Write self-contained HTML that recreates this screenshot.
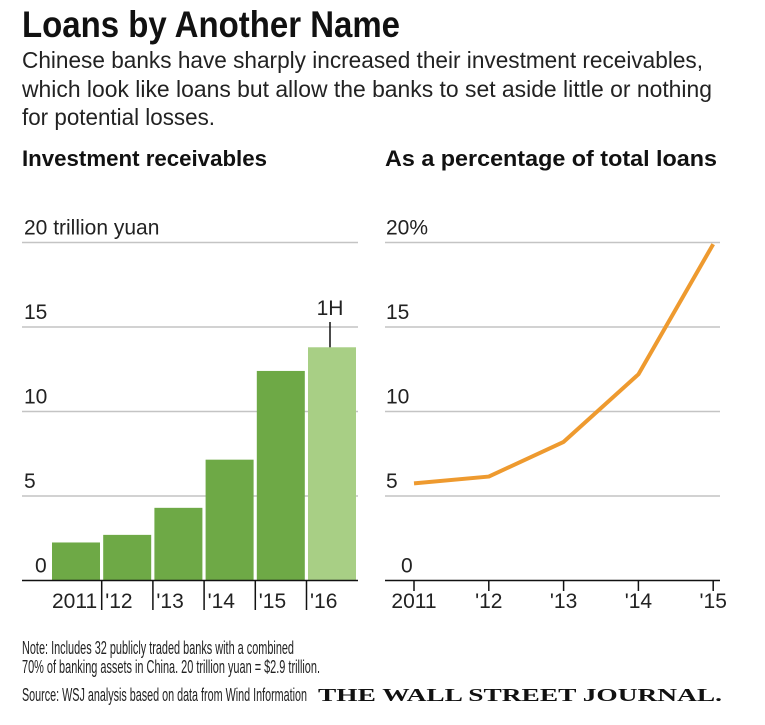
<!DOCTYPE html>
<html><head><meta charset="utf-8"><style>
html,body{margin:0;padding:0;background:#fff;}
svg{display:block;font-family:"Liberation Sans Narrow","Liberation Sans",sans-serif;}
</style></head><body>
<svg id="chart" width="765" height="725" viewBox="0 0 765 725" xmlns="http://www.w3.org/2000/svg">
<text x="22" y="37" font-size="37" font-weight="bold" textLength="378" lengthAdjust="spacingAndGlyphs" fill="#111">Loans by Another Name</text>
<g font-size="23" fill="#222">
<text x="22" y="68" textLength="681" lengthAdjust="spacingAndGlyphs">Chinese banks have sharply increased their investment receivables,</text>
<text x="22" y="97" textLength="690" lengthAdjust="spacingAndGlyphs">which look like loans but allow the banks to set aside little or nothing</text>
<text x="22" y="125" textLength="193" lengthAdjust="spacingAndGlyphs">for potential losses.</text>
</g>
<text x="22" y="166" font-size="22" font-weight="bold" textLength="245" lengthAdjust="spacingAndGlyphs" fill="#111">Investment receivables</text>
<text x="385" y="166" font-size="22" font-weight="bold" textLength="332" lengthAdjust="spacingAndGlyphs" fill="#111">As a percentage of total loans</text>
<g id="left"></g>
<g id="right"></g>
<g font-size="18" fill="#222">
<text x="22" y="654" textLength="272" lengthAdjust="spacingAndGlyphs">Note: Includes 32 publicly traded banks with a combined</text>
<text x="22" y="673" textLength="298" lengthAdjust="spacingAndGlyphs">70% of banking assets in China. 20 trillion yuan = $2.9 trillion.</text>
<text x="22" y="701" textLength="285" lengthAdjust="spacingAndGlyphs">Source: WSJ analysis based on data from Wind Information</text>
</g>
<text x="318" y="701" font-family="'Liberation Serif',serif" font-size="18" font-weight="bold" textLength="404" lengthAdjust="spacingAndGlyphs" fill="#111">THE WALL STREET JOURNAL.</text>
</svg>
<script>
const barCategories = ["2011", "'12", "'13", "'14", "'15", "'16"];
const barValues = [2.25, 2.7, 4.3, 7.15, 12.4, 13.8];
const leftTicks = [0, 5, 10, 15, 20];
const leftTickLabels = ["0", "5", "10", "15", "20 trillion yuan"];
const lineCategories = ["2011", "'12", "'13", "'14", "'15"];
const lineValues = [5.75, 6.15, 8.2, 12.2, 19.9];
const rightTicks = [0, 5, 10, 15, 20];
const rightTickLabels = ["0", "5", "10", "15", "20%"];

const NS = "http://www.w3.org/2000/svg";
function mk(tag, attrs, parent, txt) {
  const e = document.createElementNS(NS, tag);
  for (const k in attrs) e.setAttribute(k, attrs[k]);
  if (txt !== undefined) e.textContent = txt;
  parent.appendChild(e);
  return e;
}
const y0 = 580.5, pxPerUnit = 16.9;
function yScale(v) { return y0 - v * pxPerUnit; }

// Left chart
const L = document.getElementById('left');
const lx0 = 22, lx1 = 358, barStart = 52, slot = 51.2, barW = 48;
function bx(i) { return barStart + i * slot; }
leftTicks.forEach((t, i) => {
  if (t > 0) {
    const g = mk('line', {x1: lx0, x2: lx1, y1: yScale(t), y2: yScale(t), stroke: '#c4c4c4', 'stroke-width': 1.5}, L);
    
    
  }
  const lbl = mk('text', {x: t === 0 ? 35 : 24, y: yScale(t) - 8, 'font-size': 21, fill: '#222'}, L, leftTickLabels[i]);
  
  
});
barValues.forEach((v, i) => {
  const r = mk('rect', {x: bx(i), y: yScale(v), width: barW, height: y0 - yScale(v), fill: i === barValues.length - 1 ? '#a8cf85' : '#6ea946'}, L);
  
  
  if (i > 0) {
    const t = mk('line', {x1: bx(i) - 1.5, x2: bx(i) - 1.5, y1: y0, y2: 610, stroke: '#111', 'stroke-width': 1.5}, L);
    
    
  }
  const xl = mk('text', {x: i === 0 ? bx(i) : bx(i) + 2, y: 608, 'font-size': 21, fill: '#222'}, L, barCategories[i]);
  
  
});
const last = barValues.length - 1;
const ann = mk('line', {x1: bx(last) + 22, x2: bx(last) + 22, y1: 322, y2: yScale(barValues[last]), stroke: '#111', 'stroke-width': 1.5}, L);


const annT = mk('text', {x: bx(last) + 22, y: 315, 'font-size': 21, fill: '#222', 'text-anchor': 'middle'}, L, '1H');


const la = mk('line', {x1: lx0, x2: lx1, y1: y0, y2: y0, stroke: '#111', 'stroke-width': 1.5}, L);



// Right chart
const R = document.getElementById('right');
const rx0 = 385, rx1 = 720, px0 = 414, pstep = 74.8;
function px(i) { return px0 + i * pstep; }
rightTicks.forEach((t, i) => {
  if (t > 0) {
    const g = mk('line', {x1: rx0, x2: rx1, y1: yScale(t), y2: yScale(t), stroke: '#c4c4c4', 'stroke-width': 1.5}, R);
    
    
  }
  const lbl = mk('text', {x: t === 0 ? 401 : 386, y: yScale(t) - 8, 'font-size': 21, fill: '#222'}, R, rightTickLabels[i]);
  
  
});
const ra = mk('line', {x1: rx0, x2: rx1, y1: y0, y2: y0, stroke: '#111', 'stroke-width': 1.5}, R);


lineCategories.forEach((c, i) => {
  const t = mk('line', {x1: px(i), x2: px(i), y1: y0, y2: 591, stroke: '#111', 'stroke-width': 1.5}, R);
  
  
  const xl = mk('text', {x: px(i), y: 608, 'font-size': 21, fill: '#222', 'text-anchor': 'middle'}, R, c);
  
  
});
const pts = lineValues.map((v, i) => px(i) + ',' + yScale(v)).join(' ');
const pl = mk('polyline', {points: pts, fill: 'none', stroke: '#ee9a2f', 'stroke-width': 4, 'stroke-linejoin': 'round'}, R);


</script>
</body></html>
